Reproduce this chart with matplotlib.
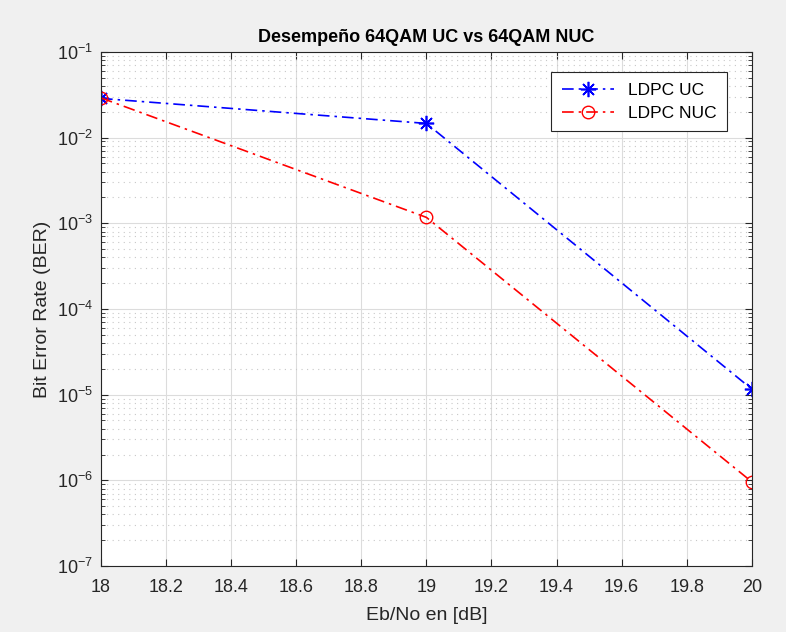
import numpy as np
import matplotlib.pyplot as plt
from matplotlib.ticker import LogLocator, NullFormatter

plt.rcParams['font.family'] = ['Liberation Sans', 'DejaVu Sans']

# data
ebno = [18, 19, 20]
ber_uc = [0.0286, 0.0146, 1.16e-5]
ber_nuc = [0.0290, 0.00117, 9.6e-7]

fig = plt.figure(figsize=(7.86, 6.32), dpi=100, facecolor='#f0f0f0')
ax = fig.add_axes([0.1285, 0.1044, 0.828, 0.8136])

dashdot = (0, (7, 3, 1.5, 3))
ax.semilogy(ebno, ber_uc, color='b', ls=dashdot, marker=(8, 2, 0), lw=1.2, ms=11,
            mew=1.2, label='LDPC UC')
ax.semilogy(ebno, ber_nuc, color='r', ls=dashdot, marker='o', lw=1.2, ms=9,
            mfc='none', mew=1.0, label='LDPC NUC')

ax.set_xlim(18, 20)
ax.set_ylim(1e-7, 1e-1)
ax.set_xticks(np.arange(18, 20.01, 0.2))
ax.set_xticklabels(['18', '18.2', '18.4', '18.6', '18.8', '19', '19.2', '19.4', '19.6', '19.8', '20'])
ax.yaxis.set_major_locator(LogLocator(base=10, numticks=10))
ax.yaxis.set_minor_locator(LogLocator(base=10, subs=np.arange(2, 10), numticks=10))
ax.yaxis.set_minor_formatter(NullFormatter())

ax.grid(True, which='major', color='#dcdcdc', lw=0.8)
ax.grid(True, which='minor', axis='y', color='#c8c8c8', ls=(0, (1, 4)), lw=0.8)
ax.set_axisbelow(True)

ax.tick_params(which='both', direction='in', top=True, right=True, labelsize=13, colors='#262626')
ax.tick_params(axis='x', pad=9)
ax.tick_params(axis='y', pad=6)
ax.tick_params(which='major', length=5)
ax.tick_params(which='minor', length=3)
for s in ax.spines.values():
    s.set_color('#262626')

ax.set_title('Desempeño 64QAM UC vs 64QAM NUC', fontsize=13, fontweight='bold', pad=7)
ax.set_xlabel('Eb/No en [dB]', fontsize=14, color='#262626', labelpad=8)
ax.set_ylabel('Bit Error Rate (BER)', fontsize=14, color='#262626', labelpad=4)

leg = ax.legend(loc='upper right', bbox_to_anchor=(0.975, 0.977), fontsize=12.5,
                fancybox=False, edgecolor='#262626', framealpha=1, handlelength=3.0,
                borderpad=0.6, labelspacing=0.45)
leg.get_frame().set_linewidth(0.8)

fig.savefig('out.png', dpi=100, facecolor=fig.get_facecolor())
